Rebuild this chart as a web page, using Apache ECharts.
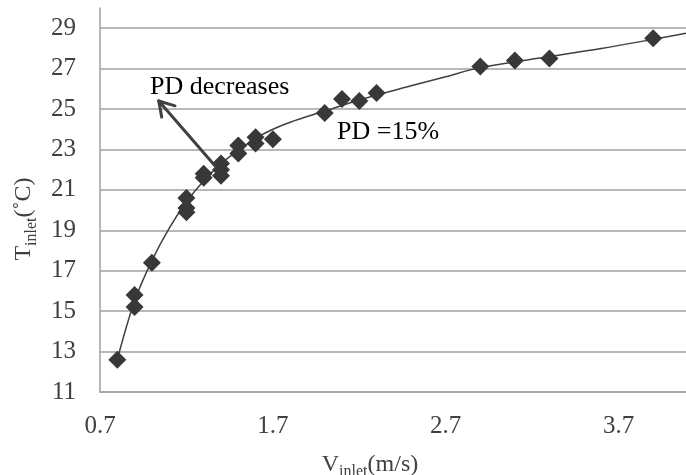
<!DOCTYPE html>
<html>
<head>
<meta charset="utf-8">
<script src="https://cdn.jsdelivr.net/npm/echarts@6/dist/echarts.min.js"></script>
<style>
  html, body { margin: 0; padding: 0; background: #fff; }
  #chart { width: 686px; height: 475px; }
</style>
</head>
<body>
<div id="chart"></div>
<script>
// measured points (V_inlet m/s, T_inlet °C)
const vInlet = [0.8, 0.9, 0.9, 1.0, 1.2, 1.2, 1.2, 1.3, 1.3, 1.4, 1.4, 1.4, 1.5, 1.5, 1.6, 1.6, 1.7,
  2.0, 2.1, 2.2, 2.3, 2.9, 3.1, 3.3, 3.9];
const tInlet = [12.6, 15.8, 15.2, 17.4, 20.6, 20.1, 19.9, 21.6, 21.8, 22.3, 22.0, 21.7, 23.2, 22.8, 23.6, 23.3, 23.5,
  24.8, 25.5, 25.4, 25.8, 27.1, 27.4, 27.5, 28.5];

// fitted curve
const curveV = [0.8, 0.9, 1.0, 1.1, 1.2, 1.3, 1.4, 1.5, 1.6, 1.7, 1.8, 2.0, 2.2, 2.5, 2.7, 2.9, 3.3, 3.6, 3.9, 4.09];
const curveT = [12.6, 15.5, 17.5, 19.1, 20.4, 21.45, 22.3, 22.95, 23.55, 24.0, 24.35, 24.9, 25.45, 26.15, 26.6, 27.05, 27.6, 28.0, 28.45, 28.75];

// arrow annotation "PD decreases" (data coords): shaft, then the two head strokes
const arrowFrom = [1.37, 22.15];
const arrowTip = [1.04, 25.4];
const arrowHeadA = [1.057, 24.6];
const arrowHeadB = [1.134, 25.16];

const xMin = 0.7, xMax = 4.09, xStep = 1;
const yMin = 11, yMax = 30, yStep = 2;

const ink = '#404040';
const gridCol = '#a0a0a0';
const serif = '"Liberation Serif", "Times New Roman", serif';

const chart = echarts.init(document.getElementById('chart'));

chart.setOption({
  animation: false,
  textStyle: { fontFamily: serif },
  grid: { left: 100, right: 0, top: 8, bottom: 83, outerBoundsMode: 'none', containLabel: false },
  xAxis: {
    type: 'value',
    min: xMin,
    max: xMax,
    interval: xStep,
    axisLine: { show: true, lineStyle: { color: gridCol, width: 1.5 } },
    axisTick: { show: false },
    splitLine: { show: false },
    axisLabel: {
      showMaxLabel: false,
      margin: 22,
      fontSize: 25,
      color: ink,
      fontFamily: serif,
      formatter: v => v.toFixed(1)
    },
    name: '{a|V}{b|inlet}{a|(m/s)}',
    nameLocation: 'middle',
    nameGap: 61,
    nameTextStyle: {
      padding: [0, 46, 0, 0],
      rich: {
        a: { fontSize: 24, fontFamily: serif, color: ink, verticalAlign: 'top', lineHeight: 27 },
        b: { fontSize: 16, fontFamily: serif, color: ink, verticalAlign: 'bottom', lineHeight: 27 }
      }
    }
  },
  yAxis: {
    type: 'value',
    min: yMin,
    max: yMax,
    interval: yStep,
    axisLine: { show: true, lineStyle: { color: gridCol, width: 1.5 } },
    axisTick: { show: false },
    splitLine: { show: true, showMaxLine: false, lineStyle: { color: gridCol, width: 1.5 } },
    axisLabel: { showMaxLabel: false, margin: 24, fontSize: 25, color: ink, fontFamily: serif },
    name: '{a|T}{b|inlet}{a|(˚C)}',
    nameLocation: 'middle',
    nameGap: 60,
    nameTextStyle: {
      padding: [0, 38, 0, 0],
      rich: {
        a: { fontSize: 24, fontFamily: serif, color: ink, verticalAlign: 'top', lineHeight: 28 },
        b: { fontSize: 16, fontFamily: serif, color: ink, verticalAlign: 'bottom', lineHeight: 28 }
      }
    }
  },
  series: [
    {
      type: 'line',
      data: curveV.map((v, i) => [v, curveT[i]]),
      smooth: 0.35,
      showSymbol: false,
      lineStyle: { color: ink, width: 1.5 },
      z: 2,
      markLine: {
        silent: true,
        symbol: ['none', 'none'],
        label: { show: false },
        lineStyle: { color: ink, width: 3, type: 'solid', cap: 'round' },
        data: [
          [{ coord: arrowFrom }, { coord: arrowTip }],
          [{ coord: arrowTip }, { coord: arrowHeadA }],
          [{ coord: arrowTip }, { coord: arrowHeadB }]
        ]
      }
    },
    {
      type: 'scatter',
      data: vInlet.map((v, i) => [v, tInlet[i]]),
      symbol: 'diamond',
      symbolSize: 18,
      itemStyle: { color: '#383838', opacity: 1 },
      z: 3
    }
  ],
  graphic: [
    {
      type: 'text',
      left: 150,
      top: 74,
      style: { text: 'PD decreases', font: '26px ' + serif, fill: '#000' }
    },
    {
      type: 'text',
      left: 337,
      top: 119,
      style: { text: 'PD =15%', font: '26px ' + serif, fill: '#000' }
    }
  ]
});
</script>
</body>
</html>
